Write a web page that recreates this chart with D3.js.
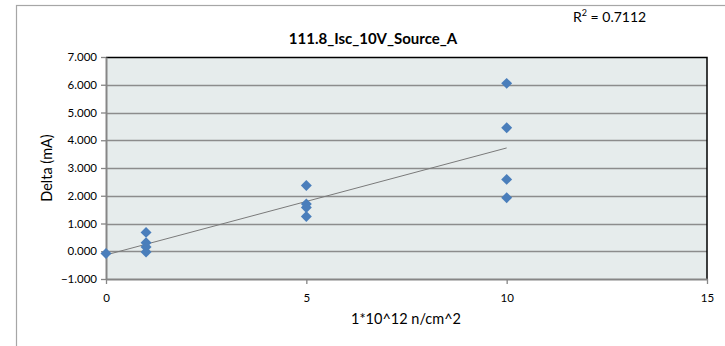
<!DOCTYPE html>
<html>
<head>
<meta charset="utf-8">
<script src="https://cdn.jsdelivr.net/npm/d3@7"></script>
<style>
  body { margin: 0; background: #fff; }
  svg text { font-family: Lato, "Open Sans", sans-serif; fill: #000; }
</style>
</head>
<body>
<div id="chart"></div>
<script>
// fluence (x) and delta (y) for each measured part
var fluence = [0, 1, 1, 1, 1, 5, 5, 5, 5, 10, 10, 10, 10];
var delta = [-0.08, 0.68, 0.31, 0.15, -0.03, 2.37, 1.70, 1.58, 1.25, 6.05, 4.45, 2.59, 1.93];
var xTicks = [0, 5, 10, 15];
var yTicks = [-1, 0, 1, 2, 3, 4, 5, 6, 7];
var chartTitle = "111.8_Isc_10V_Source_A";
var rSquared = "0.7112";

var W = 725, H = 346;
var margin = {top: 57, right: 18, bottom: 67, left: 106},
    width = 707 - margin.left,
    height = 279 - margin.top;

var svg = d3.select("#chart").append("svg")
    .attr("width", W)
    .attr("height", H);

// outer chart border
svg.append("rect")
    .attr("x", 16.5).attr("y", 5.5)
    .attr("width", 740).attr("height", 400)
    .style("fill", "none")
    .style("stroke", "#a6a6a6")
    .style("stroke-width", 1.2);

var g = svg.append("g")
    .attr("transform", "translate(" + margin.left + "," + margin.top + ")");

var xScale = d3.scaleLinear().domain([0, 15]).range([0, width]);
var yScale = d3.scaleLinear().domain([-1, 7]).range([height, 0]);

g.append("rect")
    .attr("width", width).attr("height", height)
    .style("fill", "#e6ecec");

// horizontal grid
g.selectAll(".grid")
  .data(yTicks.slice(1, -1))
  .enter().append("line")
    .attr("class", "grid")
    .attr("x1", 0).attr("x2", width)
    .attr("y1", function(d) { return Math.round(yScale(d)) + 0.5; })
    .attr("y2", function(d) { return Math.round(yScale(d)) + 0.5; })
    .style("stroke", "#8c8c8c")
    .style("stroke-width", 1.3);

// top and right border black
g.append("path")
    .attr("d", "M0,0.5H" + width + "V" + height)
    .style("fill", "none")
    .style("stroke", "#000")
    .style("stroke-width", 1.5);

var xAxis = d3.axisBottom(xScale).tickValues(xTicks).tickSize(5).tickSizeOuter(0)
    .tickFormat(d3.format("d"));
var yAxis = d3.axisLeft(yScale).tickValues(yTicks).tickSize(5).tickSizeOuter(0)
    .tickFormat(d3.format(".3f"));

var gx = g.append("g")
    .attr("transform", "translate(0," + height + ")")
    .call(xAxis);
var gy = g.append("g").call(yAxis);

[gx, gy].forEach(function(ax) {
  ax.select(".domain").style("stroke", "#868686").style("stroke-width", 2);
  ax.selectAll(".tick line").style("stroke", "#868686").style("stroke-width", 1.3);
  ax.selectAll("text").style("font-size", "11.5px").style("fill", "#000");
});
gx.selectAll("text").attr("dy", "1.3em");
gy.selectAll("text").attr("x", -9);

// least squares trendline over data range
var mx = d3.mean(fluence), my = d3.mean(delta);
var sxy = d3.sum(fluence, function(x, i) { return (x - mx) * (delta[i] - my); });
var sxx = d3.sum(fluence, function(x) { return (x - mx) * (x - mx); });
var slope = sxy / sxx, intercept = my - slope * mx;
var xr = d3.extent(fluence);

g.append("line")
    .attr("x1", xScale(xr[0])).attr("y1", yScale(intercept + slope * xr[0]))
    .attr("x2", xScale(xr[1])).attr("y2", yScale(intercept + slope * xr[1]))
    .style("stroke", "#7a7a7a")
    .style("stroke-width", 1);

var symbol = d3.symbol().type(d3.symbolSquare).size(60);

g.selectAll(".dot")
  .data(fluence)
  .enter().append("path")
    .attr("class", "dot")
    .attr("d", symbol)
    .attr("transform", function(d, i) {
      return "translate(" + xScale(d) + "," + yScale(delta[i]) + ") rotate(45)";
    })
    .style("fill", "#4a7ebb");

svg.append("text")
    .attr("x", 373).attr("y", 44)
    .attr("text-anchor", "middle")
    .style("font-size", "15px")
    .style("font-weight", "bold")
    .text(chartTitle);

var r2 = svg.append("text")
    .attr("x", 573).attr("y", 22)
    .style("font-size", "14px");
r2.append("tspan").text("R");
r2.append("tspan").attr("dy", -6).style("font-size", "9px").text("2");
r2.append("tspan").attr("dy", 6).text(" = " + rSquared);

svg.append("text")
    .attr("x", 406).attr("y", 324)
    .attr("text-anchor", "middle")
    .style("font-size", "14.5px")
    .text("1*10^12 n/cm^2");

svg.append("text")
    .attr("transform", "translate(52,168) rotate(-90)")
    .attr("text-anchor", "middle")
    .style("font-size", "14.5px")
    .text("Delta (mA)");
</script>
</body>
</html>
